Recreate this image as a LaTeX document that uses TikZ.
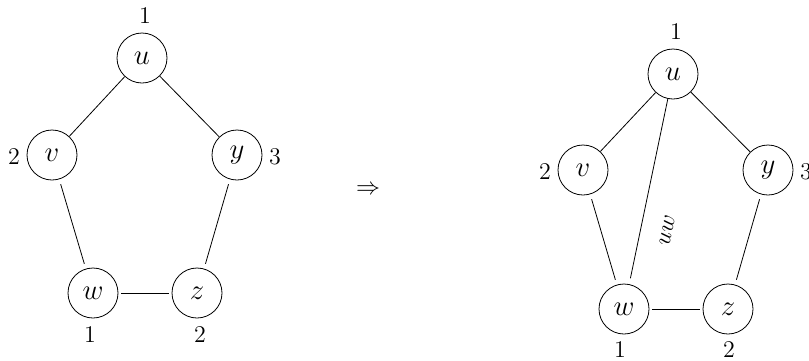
\documentclass[tikz,border=0pt]{standalone}
\begin{document}
\begin{tikzpicture}[x=0.5pt,y=-0.5pt,
  vert/.style={circle,draw,minimum size=25pt,inner sep=0pt,font=\Large},
  colr/.style={inner sep=0pt,font=\large},
  downedge/.style={shorten <=2.5pt,shorten >=2.5pt},
  flatedge/.style={shorten <=1.5pt,shorten >=1.2pt}]
\useasboundingbox (0,0) rectangle (809,360);
% left graph
\node[vert] (u1) at (142,58) {$u$};
\node[vert] (v1) at (52,155) {$v$};
\node[vert] (y1) at (237,155) {$y$};
\node[vert] (w1) at (93,293) {$w$};
\node[vert] (z1) at (197,293) {$z$};
\node[colr] (lu1) at (145,16) {1};
\node[colr] (lv1) at (14,157) {2};
\node[colr] (ly1) at (275,157) {3};
\node[colr] (lw1) at (90,335) {1};
\node[colr] (lz1) at (200,335) {2};
\draw (u1) -- (v1);
\draw (u1) -- (y1);
\draw[downedge] (v1) -- (w1);
\draw[downedge] (y1) -- (z1);
\draw[flatedge] (w1) -- (z1);
% implication
\node[font=\large] (imp) at (368,190) {$\Rightarrow$};
% right graph
\node[vert] (u2) at (673,74) {$u$};
\node[vert] (v2) at (583,170) {$v$};
\node[vert] (y2) at (768,170) {$y$};
\node[vert] (w2) at (624,309) {$w$};
\node[vert] (z2) at (728,309) {$z$};
\node[colr] (lu2) at (676,32) {1};
\node[colr] (lv2) at (545,172) {2};
\node[colr] (ly2) at (806,172) {3};
\node[colr] (lw2) at (620,350) {1};
\node[colr] (lz2) at (729,350) {2};
\draw (u2) -- (v2);
\draw (u2) -- (y2);
\draw[downedge] (v2) -- (w2);
\draw[downedge] (y2) -- (z2);
\draw[flatedge] (w2) -- (z2);
\draw[shorten <=3pt] (w2) -- node[pos=0.32,sloped,below=7pt,font=\large] {$uw$} (u2);
\end{tikzpicture}
\end{document}
